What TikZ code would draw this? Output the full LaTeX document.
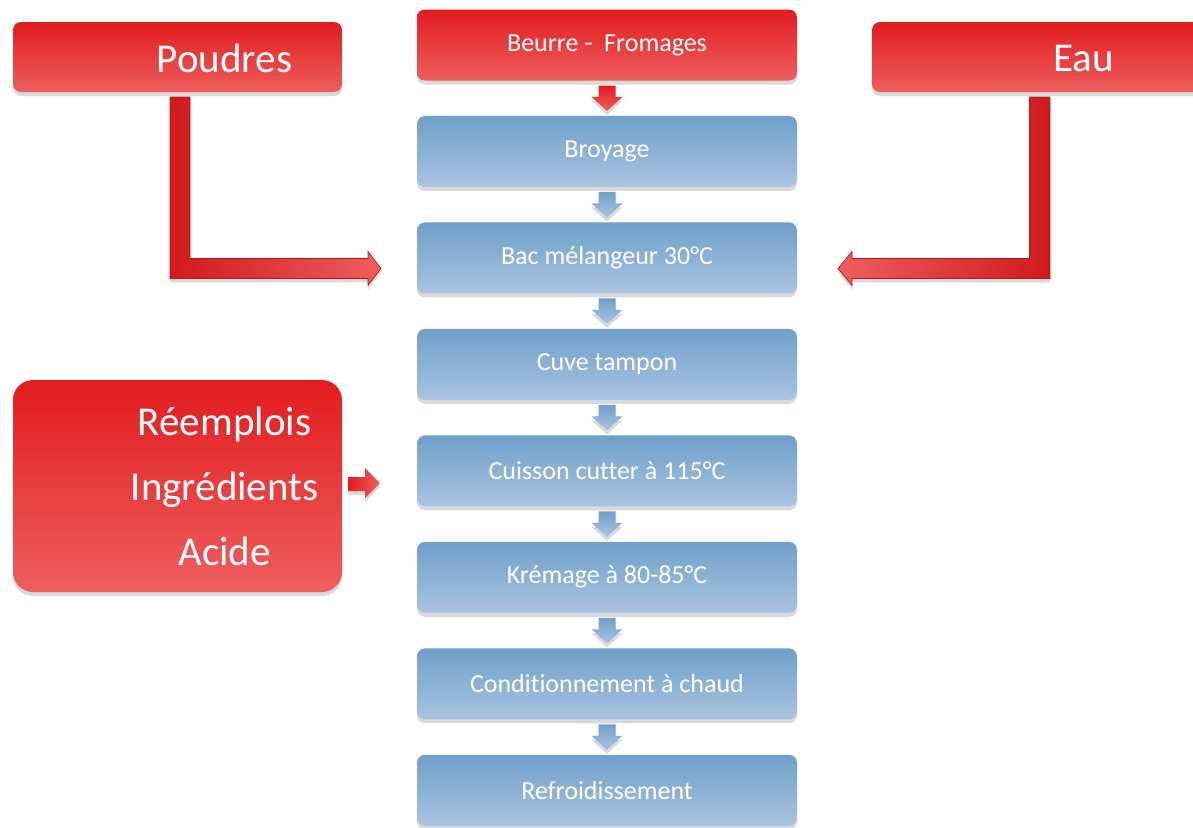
\documentclass[tikz,border=0pt]{standalone}
\usepackage{fontspec}
\setmainfont{Carlito}[Ligatures=NoCommon]
\usetikzlibrary{positioning,calc,shadows}

\definecolor{redtop}{RGB}{226,28,30}
\definecolor{redbot}{RGB}{238,94,94}
\definecolor{reddark}{RGB}{178,22,24}
\definecolor{bluetop}{RGB}{111,159,202}
\definecolor{bluebot}{RGB}{170,196,224}

\tikzset{every picture/.style={line width=0.75pt}}

% fat arrow going down from one step box to the next
\newcommand{\stepArrow}[3]{%
  \path[#3] ($(#1.south)+(-8.5,5)$) -- ($(#1.south)+(8.5,5)$) -- ($(#2.north)+(8.5,-19)$) -- ($(#2.north)+(15.5,-19)$) -- ($(#2.north)+(0,-5)$) -- ($(#2.north)+(-15.5,-19)$) -- ($(#2.north)+(-8.5,-19)$) -- cycle ;}

\begin{document}
\begin{tikzpicture}[x=0.75pt,y=0.75pt,yscale=-1,xscale=1,
    node distance=26.6pt,
    boxshadow/.style={drop shadow={shadow xshift=0pt,shadow yshift=-3pt,opacity=0.3}},
    stepbox/.style={rounded corners=6pt,minimum width=285pt,minimum height=53.25pt,inner sep=0pt,outer sep=0pt,text=white,font=\fontsize{19.5}{23}\selectfont,boxshadow},
    bluebox/.style={stepbox,top color=bluetop,bottom color=bluebot},
    redbox/.style={stepbox,top color=redtop,bottom color=redbot},
    inputbox/.style={rounded corners=6pt,minimum width=246.75pt,minimum height=52.5pt,inner sep=0pt,outer sep=0pt,top color=redtop,bottom color=redbot,boxshadow},
    inputtext/.style={text=white,font=\fontsize{30.75}{48.75}\selectfont,align=center,inner sep=0pt},
    bluearrow/.style={top color=bluetop,bottom color=bluebot,boxshadow},
    redarrow/.style={top color=redtop,bottom color=redbot,boxshadow},
    bentarrow/.style={draw=reddark,line width=0.5pt,boxshadow},
  ]
  \useasboundingbox (0,0) rectangle (1193,828);
  \clip (0,0) rectangle (1193,828);

  % Process column
  \node [redbox] (beurre) at (607,45) {Beurre -~ Fromages};
  \node [bluebox, below=of beurre] (broyage) {Broyage};
  \node [bluebox, below=of broyage] (bac) {Bac mélangeur 30°C};
  \node [bluebox, below=of bac] (cuve) {Cuve tampon};
  \node [bluebox, below=of cuve] (cuisson) {Cuisson cutter à 115°C};
  \node [bluebox, below=of cuisson] (kremage) {Krémage à 80-85°C};
  \node [bluebox, below=of kremage] (condit) {Conditionnement à chaud};
  \node [bluebox, below=of condit] (refroid) {Refroidissement};

  % Inputs
  \node [inputbox] (poudres) at (177.5,57) {};
  \node [inputtext] (poudrestxt) at ($(poudres.center)+(47,1)$) {Poudres};
  \node [inputbox] (eau) at (1036.5,57) {};
  \node [inputtext] (eautxt) at ($(eau.center)+(47,1)$) {Eau};
  \node [inputbox,minimum height=159pt,rounded corners=15pt] (reemplois) at (177.5,486) {};
  \node [inputtext] (reemploistxt) at ($(reemplois.center)+(47,0)$) {Réemplois\\Ingrédients\\Acide};

  % Arrows between steps
  \stepArrow{beurre}{broyage}{redarrow}
  \stepArrow{broyage}{bac}{bluearrow}
  \stepArrow{bac}{cuve}{bluearrow}
  \stepArrow{cuve}{cuisson}{bluearrow}
  \stepArrow{cuisson}{kremage}{bluearrow}
  \stepArrow{kremage}{condit}{bluearrow}
  \stepArrow{condit}{refroid}{bluearrow}

  % Bent arrow Poudres -> Bac
  \path [bentarrow,left color=redtop!92!black,right color=redbot] ($(poudres.south)+(-7.5,5)$) -- ($(poudres.south)+(12.5,5)$) -- ($(poudres.south |- bac.west)+(12.5,0.5)$) -- ($(bac.west)+(-49,0.5)$) -- ($(bac.west)+(-49,-6.5)$) -- ($(bac.west)+(-36,10.5)$) -- ($(bac.west)+(-49,27.5)$) -- ($(bac.west)+(-49,20.5)$) -- ($(poudres.south |- bac.west)+(-7.5,20.5)$) -- cycle ;
  % Bent arrow Eau -> Bac
  \path [bentarrow,left color=redbot,right color=redtop!92!black] ($(eau.south)+(13.5,5)$) -- ($(eau.south)+(-7,5)$) -- ($(eau.south |- bac.east)+(-7,0.5)$) -- ($(bac.east)+(55,0.5)$) -- ($(bac.east)+(55,-6.5)$) -- ($(bac.east)+(41,10.5)$) -- ($(bac.east)+(55,27.5)$) -- ($(bac.east)+(55,20.5)$) -- ($(eau.south |- bac.east)+(13.5,20.5)$) -- cycle ;
  % Small arrow Reemplois -> Cuisson
  \path [redarrow,left color=redtop,right color=redbot] ($(reemplois.east)+(6,-9)$) -- ($(reemplois.east)+(23,-9)$) -- ($(reemplois.east)+(23,-18)$) -- ($(reemplois.east)+(38,-3)$) -- ($(reemplois.east)+(23,12)$) -- ($(reemplois.east)+(23,5)$) -- ($(reemplois.east)+(6,5)$) -- cycle ;
\end{tikzpicture}
\end{document}
